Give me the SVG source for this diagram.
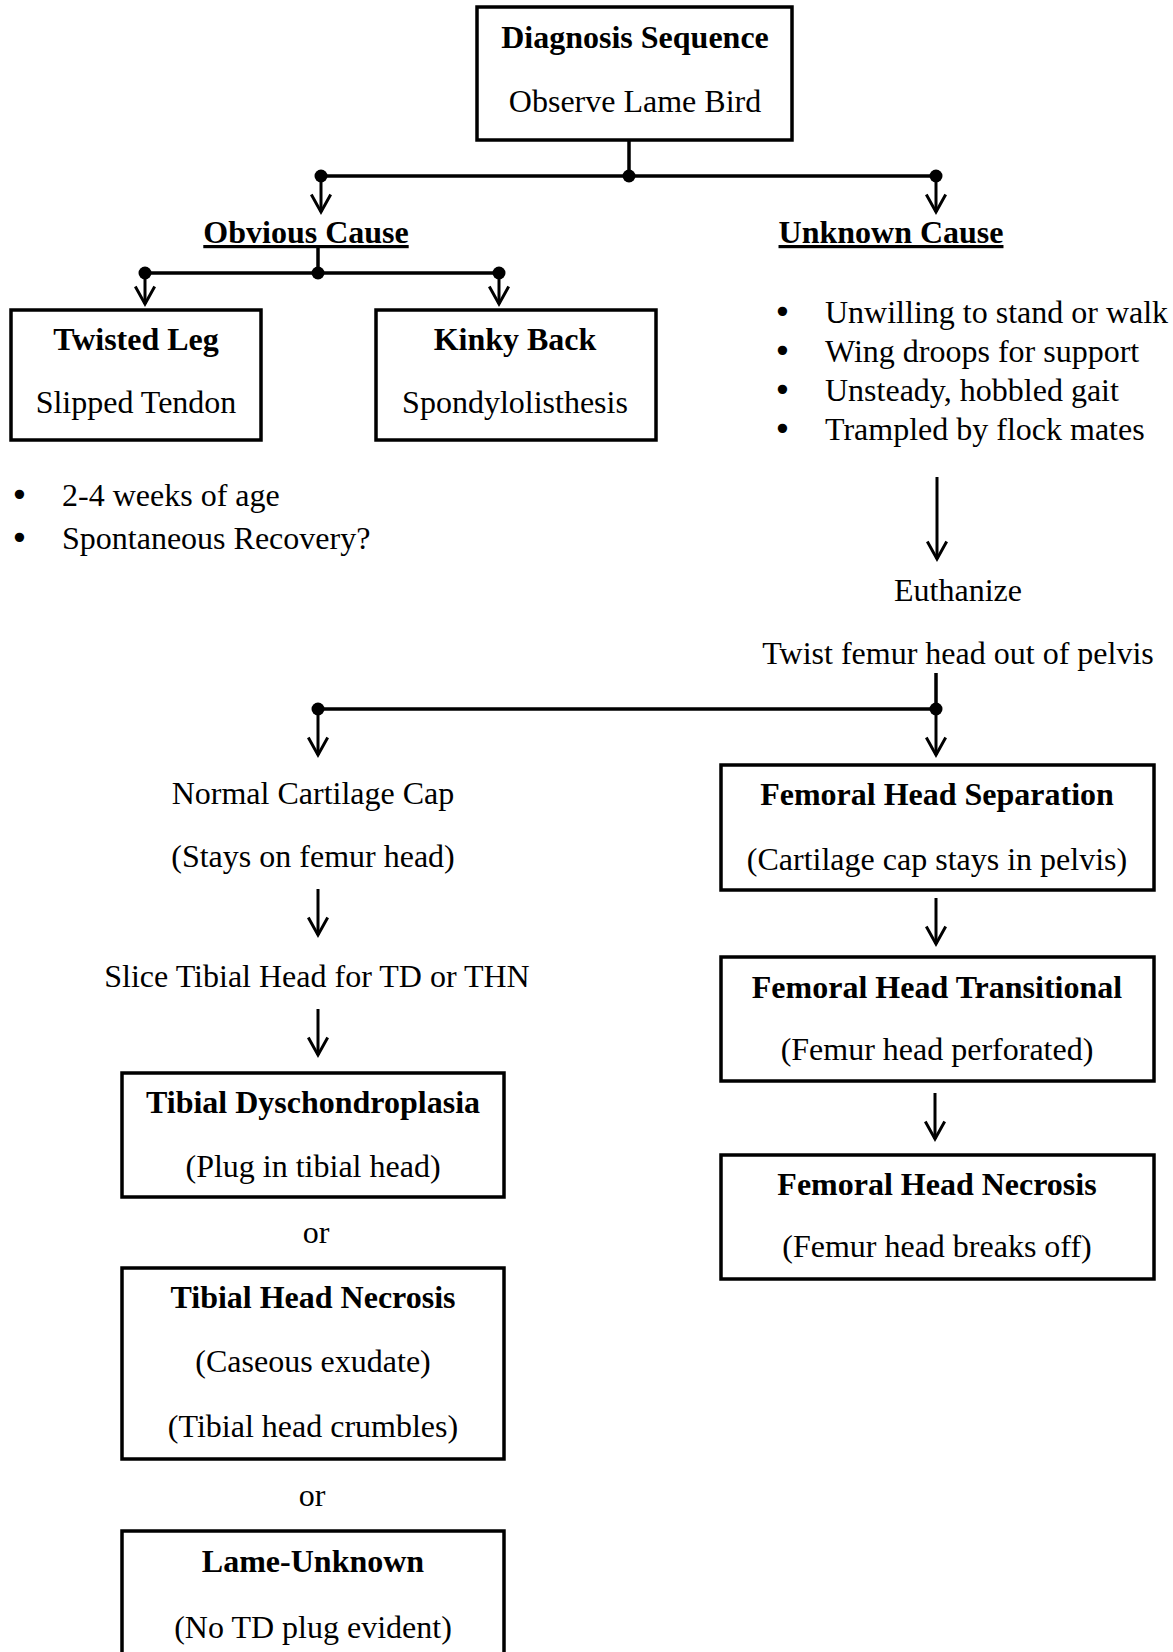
<svg xmlns="http://www.w3.org/2000/svg" width="1173" height="1652" viewBox="0 0 1173 1652">
  <style>
    .box { fill: #ffffff; stroke: #000000; stroke-width: 3.5; }
    .ln { fill: none; stroke: #000000; stroke-width: 3.5; }
    .arr { fill: none; stroke: #000000; stroke-width: 3; marker-end: url(#arrow); }
    .dot { fill: #000000; }
    text { font-family: "Liberation Serif", "Times New Roman", serif; font-size: 32px; fill: #000000; }
    .b { font-weight: bold; }
    .c { text-anchor: middle; }
    .bl { font-family: "DejaVu Sans", sans-serif; }
    .u { text-decoration: underline; text-decoration-thickness: 4px; text-underline-offset: 4px; }
  </style>
  <defs>
    <marker id="arrow" markerUnits="userSpaceOnUse" markerWidth="24" markerHeight="26" refX="0" refY="0" viewBox="-22 -13 26 26" orient="auto" overflow="visible">
      <path d="M-19,-10.5 L0,0 L-19,10.5" fill="none" stroke="#000000" stroke-width="3.2"/>
    </marker>
  </defs>
  <rect width="1173" height="1652" fill="#ffffff"/>

  <g id="connectors">
    <line class="ln" x1="629" y1="140" x2="629" y2="176"/>
    <line class="ln" x1="321" y1="176" x2="936" y2="176"/>
    <line class="arr" x1="321" y1="176" x2="321" y2="212"/>
    <line class="arr" x1="936" y1="176" x2="936" y2="212"/>
    <line class="ln" x1="318" y1="248" x2="318" y2="273"/>
    <line class="ln" x1="145" y1="273" x2="499" y2="273"/>
    <line class="arr" x1="145" y1="273" x2="145" y2="304"/>
    <line class="arr" x1="499" y1="273" x2="499" y2="304"/>
    <line class="arr" x1="937" y1="477" x2="937" y2="559"/>
    <line class="ln" x1="936" y1="673" x2="936" y2="709"/>
    <line class="ln" x1="318" y1="709" x2="936" y2="709"/>
    <line class="arr" x1="318" y1="709" x2="318" y2="755"/>
    <line class="arr" x1="936" y1="709" x2="936" y2="755"/>
    <line class="arr" x1="318" y1="889" x2="318" y2="935"/>
    <line class="arr" x1="318" y1="1009" x2="318" y2="1055"/>
    <line class="arr" x1="936" y1="898" x2="936" y2="944"/>
    <line class="arr" x1="935" y1="1093" x2="935" y2="1139"/>
    <circle class="dot" cx="321" cy="176" r="6.5"/>
    <circle class="dot" cx="629" cy="176" r="6.5"/>
    <circle class="dot" cx="936" cy="176" r="6.5"/>
    <circle class="dot" cx="145" cy="273" r="6.5"/>
    <circle class="dot" cx="318" cy="273" r="6.5"/>
    <circle class="dot" cx="499" cy="273" r="6.5"/>
    <circle class="dot" cx="318" cy="709" r="6.5"/>
    <circle class="dot" cx="936" cy="709" r="6.5"/>
  </g>

  <g id="diagnosis-sequence">
    <rect class="box" x="477" y="7" width="315" height="133"/>
    <text class="b c" x="635" y="48">Diagnosis Sequence</text>
    <text class="c" x="635" y="112">Observe Lame Bird</text>
  </g>

  <g id="obvious-cause">
    <text class="b c u" x="306" y="243">Obvious Cause</text>
  </g>

  <g id="unknown-cause">
    <text class="b c u" x="891" y="243">Unknown Cause</text>
  </g>

  <g id="twisted-leg">
    <rect class="box" x="11" y="310" width="250" height="130"/>
    <text class="b c" x="136" y="350">Twisted Leg</text>
    <text class="c" x="136" y="413">Slipped Tendon</text>
  </g>

  <g id="kinky-back">
    <rect class="box" x="376" y="310" width="280" height="130"/>
    <text class="b c" x="515" y="350">Kinky Back</text>
    <text class="c" x="515" y="413">Spondylolisthesis</text>
  </g>

  <g id="twisted-leg-notes">
    <text y="506"><tspan class="bl" x="10">•</tspan><tspan x="62">2-4 weeks of age</tspan></text>
    <text y="549"><tspan class="bl" x="10">•</tspan><tspan x="62">Spontaneous Recovery?</tspan></text>
  </g>

  <g id="unknown-signs">
    <text y="323"><tspan class="bl" x="773">•</tspan><tspan x="825">Unwilling to stand or walk</tspan></text>
    <text y="362"><tspan class="bl" x="773">•</tspan><tspan x="825">Wing droops for support</tspan></text>
    <text y="401"><tspan class="bl" x="773">•</tspan><tspan x="825">Unsteady, hobbled gait</tspan></text>
    <text y="440"><tspan class="bl" x="773">•</tspan><tspan x="825">Trampled by flock mates</tspan></text>
  </g>

  <g id="euthanize">
    <text class="c" x="958" y="601">Euthanize</text>
    <text class="c" x="958" y="664">Twist femur head out of pelvis</text>
  </g>

  <g id="normal-cartilage-cap">
    <text class="c" x="313" y="804">Normal Cartilage Cap</text>
    <text class="c" x="313" y="867">(Stays on femur head)</text>
  </g>

  <g id="slice-tibial-head">
    <text class="c" x="317" y="987">Slice Tibial Head for TD or THN</text>
  </g>

  <g id="tibial-dyschondroplasia">
    <rect class="box" x="122" y="1073" width="382" height="124"/>
    <text class="b c" x="313" y="1113">Tibial Dyschondroplasia</text>
    <text class="c" x="313" y="1177">(Plug in tibial head)</text>
  </g>

  <g id="or-1">
    <text class="c" x="316" y="1243">or</text>
  </g>

  <g id="tibial-head-necrosis">
    <rect class="box" x="122" y="1268" width="382" height="191"/>
    <text class="b c" x="313" y="1308">Tibial Head Necrosis</text>
    <text class="c" x="313" y="1372">(Caseous exudate)</text>
    <text class="c" x="313" y="1437">(Tibial head crumbles)</text>
  </g>

  <g id="or-2">
    <text class="c" x="312" y="1506">or</text>
  </g>

  <g id="lame-unknown">
    <rect class="box" x="122" y="1531" width="382" height="140"/>
    <text class="b c" x="313" y="1572">Lame-Unknown</text>
    <text class="c" x="313" y="1638">(No TD plug evident)</text>
  </g>

  <g id="femoral-head-separation">
    <rect class="box" x="721" y="765" width="433" height="125"/>
    <text class="b c" x="937" y="805">Femoral Head Separation</text>
    <text class="c" x="937" y="870">(Cartilage cap stays in pelvis)</text>
  </g>

  <g id="femoral-head-transitional">
    <rect class="box" x="721" y="957" width="433" height="124"/>
    <text class="b c" x="937" y="998">Femoral Head Transitional</text>
    <text class="c" x="937" y="1060">(Femur head perforated)</text>
  </g>

  <g id="femoral-head-necrosis">
    <rect class="box" x="721" y="1155" width="433" height="124"/>
    <text class="b c" x="937" y="1195">Femoral Head Necrosis</text>
    <text class="c" x="937" y="1257">(Femur head breaks off)</text>
  </g>
</svg>
